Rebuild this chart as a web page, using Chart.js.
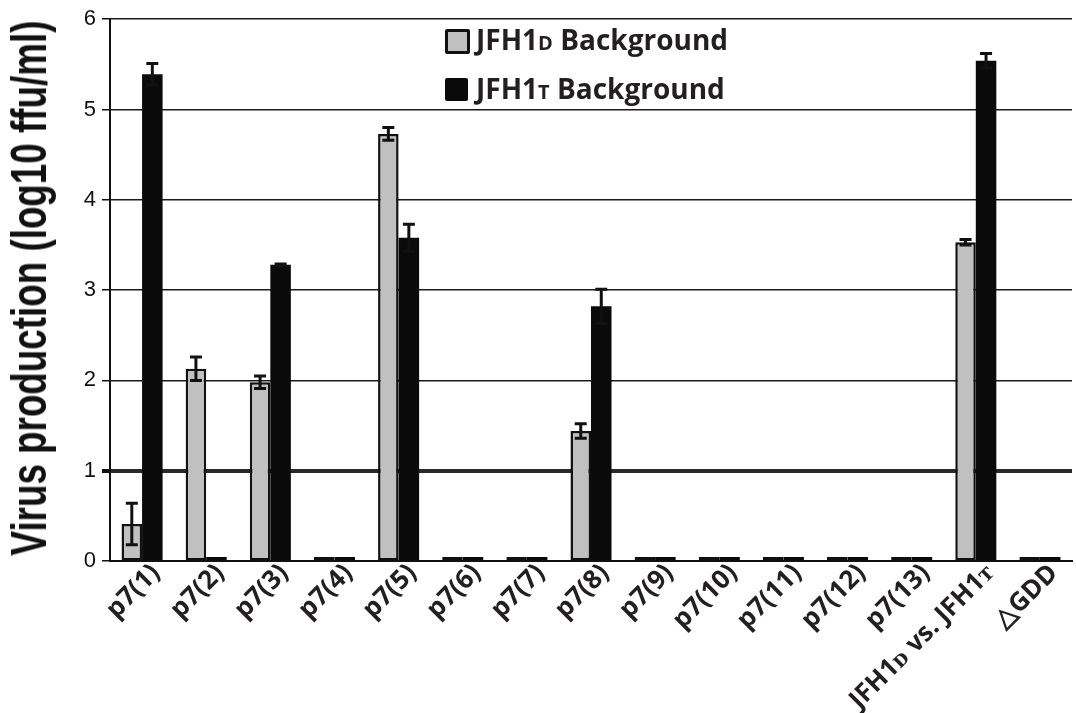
<!DOCTYPE html>
<html>
<head>
<meta charset="utf-8">
<script src="https://cdn.jsdelivr.net/npm/chart.js@4"></script>
<style>
  body { margin: 0; background: #fff; }
  #wrap { position: relative; width: 1076px; height: 713px; }
  .leg { position: absolute; font: bold 28px "Open Sans", sans-serif; color: #231f20; white-space: nowrap; }
  .leg small { font-size: 20px; }
  .box { position: absolute; width: 19px; height: 19px; border-radius: 2px; }
  #ytitle { position: absolute; font: bold 50px "Liberation Sans", Arial, sans-serif; color: #111; white-space: nowrap; left: 0; top: 0; transform-origin: 0 0; }
</style>
</head>
<body>
<div id="wrap">
  <canvas id="chartVirus" width="1076" height="713"></canvas>
  <div class="box" style="left:445px; top:29px; background:#c0c0c0; border:3px solid #111;"></div>
  <div class="leg" style="left:476px; top:20px;">JFH1<small>D</small> Background</div>
  <div class="box" style="left:445px; top:78px; width:23px; height:23px; background:#0a0a0a;"></div>
  <div class="leg" style="left:476px; top:69px;">JFH1<small>T</small> Background</div>
  <div id="ytitle">Virus production (log10 ffu/ml)</div>
</div>
<script>
// data
const labels = ["p7(1)", "p7(2)", "p7(3)", "p7(4)", "p7(5)", "p7(6)", "p7(7)", "p7(8)",
  "p7(9)", "p7(10)", "p7(11)", "p7(12)", "p7(13)", "JFH1\u1D05 vs. JFH1\u1D1B", "\u25B3GDD"];
const dataD = [0.41, 2.13, 1.98, 0, 4.73, 0, 0, 1.44, 0, 0, 0, 0, 0, 3.53, 0];
const errD = [0.23, 0.13, 0.07, 0, 0.07, 0, 0, 0.08, 0, 0, 0, 0, 0, 0.03, 0];
const dataT = [5.39, 0, 3.28, 0, 3.58, 0, 0, 2.82, 0, 0, 0, 0, 0, 5.54, 0];
const errT = [0.12, 0, 0.01, 0, 0.15, 0, 0, 0.19, 0, 0, 0, 0, 0, 0.08, 0];
const yTicks = [0, 1, 2, 3, 4, 5, 6];

// y title, squeezed to fit the axis height
const yt = document.getElementById("ytitle");
const sx = 535 / yt.offsetWidth;
yt.style.transform = "translate(0px," + (288 + 535 / 2) + "px) rotate(-90deg) scale(" + sx + ",1)";

// error bars drawn from the data arrays
const errorBars = {
  id: "errorBars",
  afterDatasetsDraw(chart) {
    const ctx = chart.ctx;
    const y = chart.scales.y;
    const errs = [errD, errT];
    chart.data.datasets.forEach((ds, i) => {
      const meta = chart.getDatasetMeta(i);
      meta.data.forEach((bar, j) => {
        const v = ds.data[j], e = errs[i][j];
        if (!v || !e) return;
        const top = y.getPixelForValue(v + e);
        const bot = y.getPixelForValue(v - e);
        ctx.save();
        ctx.strokeStyle = "#111";
        ctx.lineWidth = 3;
        ctx.beginPath();
        ctx.moveTo(bar.x, top); ctx.lineTo(bar.x, bot);
        ctx.moveTo(bar.x - 6, top); ctx.lineTo(bar.x + 6, top);
        ctx.moveTo(bar.x - 6, bot); ctx.lineTo(bar.x + 6, bot);
        ctx.stroke();
        ctx.restore();
      });
    });
  },
};

new Chart(document.getElementById("chartVirus"), {
  type: "bar",
  data: {
    labels: labels,
    datasets: [
      {
        label: "JFH1D Background",
        data: dataD,
        backgroundColor: "#c0c0c0",
        borderColor: "#111",
        borderWidth: 2.5,
        borderSkipped: false,
      },
      {
        label: "JFH1T Background",
        data: dataT,
        backgroundColor: "#0a0a0a",
        borderColor: "#0a0a0a",
        borderWidth: 0,
      },
    ],
  },
  options: {
    responsive: false,
    animation: false,
    minBarLength: 4,
    datasets: { bar: { categoryPercentage: 0.64, barPercentage: 1 } },
    layout: { padding: { top: 18, right: 4, left: 0, bottom: 0 } },
    plugins: { legend: { display: false }, tooltip: { enabled: false } },
    scales: {
      x: {
        grid: { display: false },
        border: { display: true, color: "#111", width: 2 },
        ticks: {
          color: "#231f20",
          font: { family: "Open Sans", weight: "bold", size: 26 },
          maxRotation: 45,
          minRotation: 45,
          autoSkip: false,
          padding: -11,
          labelOffset: 14,
        },
        afterFit: (s) => { s.height = 152; },
      },
      y: {
        min: 0,
        max: 6,
        afterBuildTicks: (s) => { s.ticks = yTicks.map((v) => ({ value: v })); },
        grid: {
          color: (c) => (c.tick && c.tick.value === 1 ? "#2a2a2a" : "#1a1a1a"),
          lineWidth: (c) => (c.tick && c.tick.value === 1 ? 4 : 1.5),
          tickLength: 8,
          tickColor: "#111",
        },
        border: { color: "#111", width: 2 },
        ticks: {
          color: "#111",
          font: { family: "Liberation Sans", size: 22 },
          padding: 6,
        },
        afterFit: (s) => { s.width = 110; },
      },
    },
  },
  plugins: [errorBars],
});
</script>
</body>
</html>
